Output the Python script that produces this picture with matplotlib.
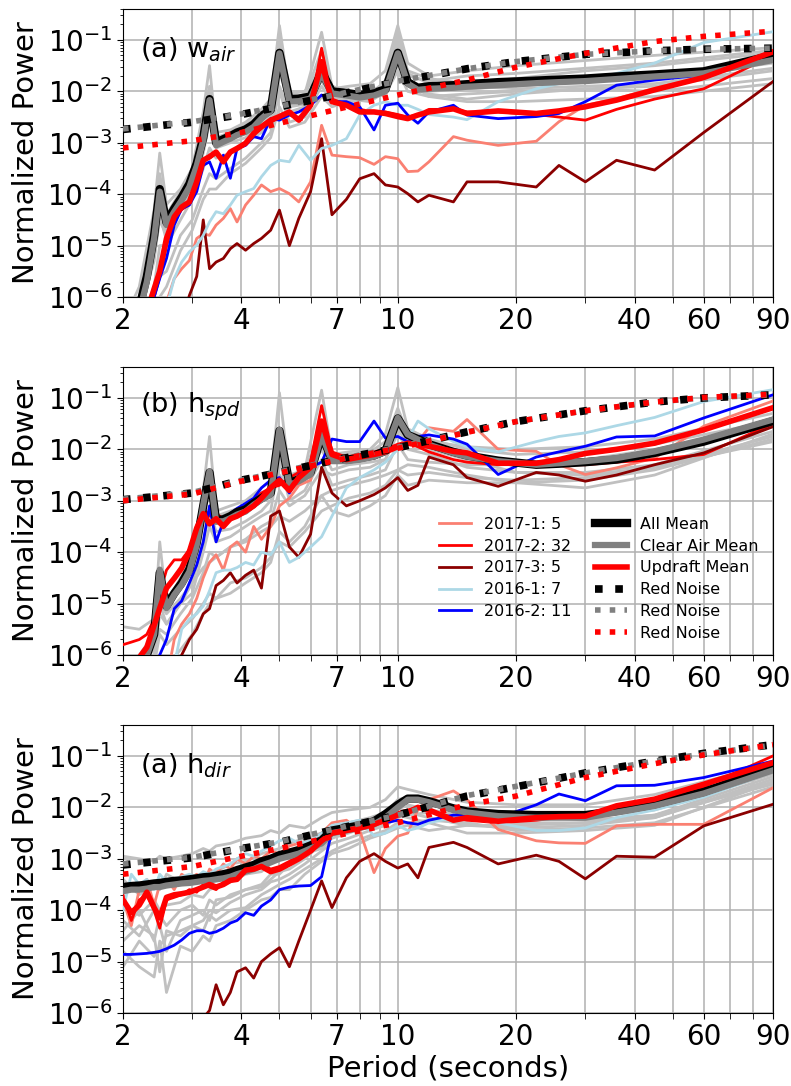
import numpy as np
import matplotlib
matplotlib.use('Agg')
import matplotlib.pyplot as plt
from matplotlib.lines import Line2D
from matplotlib.ticker import FixedLocator, FixedFormatter, NullFormatter

# period grids (seconds)
period = [2.0, 2.1, 2.2, 2.3, 2.4, 2.48, 2.58, 2.7, 2.82, 2.95,
          3.08, 3.2, 3.32, 3.45, 3.6, 3.75, 3.9, 4.1, 4.3, 4.5,
          4.75, 5.0, 5.3, 5.6, 6.0, 6.4, 6.8, 7.4, 8.0, 8.7,
          9.3, 10.0, 10.6, 11.25, 12.0, 13.85, 15.0, 18.0, 22.5, 25.7,
          30.0, 36.0, 45.0, 60.0, 90.0]
period_gray = [2.0, 2.2, 2.4, 2.48, 2.58, 2.8, 3.0, 3.2, 3.32, 3.45,
               3.75, 4.1, 4.5, 4.75, 5.0, 5.3, 5.8, 6.4, 6.8, 7.5,
               8.5, 9.3, 10.0, 10.6, 12.0, 15.0, 20.0, 30.0, 45.0, 90.0]
period_noise = [2, 3, 4, 5, 7, 10, 15, 20, 30, 45, 60, 90]

# all values below are log10(normalized power)

# ---- panel 1: w_air ----
w_all = [-6.5, -6.5, -6.2, -5.6, -4.8, -3.9, -4.55, -4.28, -4.06, -3.8,
         -3.4, -2.9, -2.15, -3.0, -2.93, -2.87, -2.8, -2.74, -2.64, -2.48,
         -2.36, -1.25, -2.15, -2.14, -2.1, -1.62, -2.0, -2.03, -2.07, -2.03,
         -1.96, -1.25, -1.82, -1.93, -1.9, -1.88, -1.86, -1.82, -1.79, -1.77,
         -1.75, -1.71, -1.67, -1.61, -1.3]
w_clear = [-6.5, -6.5, -6.3, -5.7, -4.86, -3.95, -4.6, -4.34, -4.12, -3.86,
           -3.45, -2.95, -2.17, -3.05, -2.98, -2.92, -2.85, -2.79, -2.69, -2.53,
           -2.38, -1.26, -2.2, -2.19, -2.14, -1.65, -2.04, -2.08, -2.12, -2.08,
           -2.0, -1.26, -1.85, -1.97, -1.95, -1.93, -1.91, -1.88, -1.84, -1.82,
           -1.8, -1.76, -1.71, -1.65, -1.39]
w_updraft = [-6.5, -6.5, -6.5, -6.3, -5.84, -5.5, -4.86, -4.44, -4.25, -4.15,
             -3.76, -3.34, -3.27, -3.18, -3.37, -3.18, -3.11, -3.01, -2.82, -2.69,
             -2.56, -2.49, -2.4, -2.56, -2.27, -1.42, -2.2, -2.27, -2.4, -2.4,
             -2.43, -2.49, -2.53, -2.46, -2.4, -2.34, -2.43, -2.38, -2.43, -2.38,
             -2.3, -2.17, -1.97, -1.73, -1.23]
w_2017_1 = [-6.5, -6.5, -6.5, -6.5, -6.5, -6.3, -6.1, -5.64, -5.45, -5.29,
            -4.86, -4.77, -4.8, -4.6, -4.47, -4.28, -4.54, -4.21, -4.02, -3.82,
            -3.95, -3.89, -3.99, -4.15, -3.76, -2.66, -3.24, -3.27, -3.29, -3.42,
            -3.27, -3.31, -3.56, -3.55, -3.37, -2.88, -2.95, -3.05, -2.97, -2.59,
            -2.27, -2.14, -1.94, -1.71, -1.26]
w_2017_2 = [-6.5, -6.5, -6.5, -6.4, -6.0, -5.6, -5.0, -4.5, -4.3, -4.2,
            -3.8, -3.35, -3.3, -3.2, -3.35, -3.2, -3.1, -3.0, -2.85, -2.7,
            -2.6, -2.5, -2.45, -2.55, -2.3, -1.16, -2.15, -2.25, -2.35, -2.4,
            -2.4, -2.45, -2.5, -2.45, -2.35, -2.35, -2.4, -2.4, -2.45, -2.5,
            -2.56, -2.35, -2.15, -1.95, -1.3]
w_2017_3 = [-6.5, -6.5, -6.5, -6.5, -6.5, -6.5, -6.5, -6.5, -6.5, -5.97,
            -5.6, -4.5, -5.45, -5.32, -5.25, -5.06, -4.96, -5.09, -4.96, -4.86,
            -4.7, -4.31, -5.0, -4.47, -3.95, -2.92, -4.4, -4.1, -3.7, -3.6,
            -3.82, -3.86, -3.99, -4.15, -4.02, -4.15, -3.76, -3.76, -3.86, -3.44,
            -3.76, -3.34, -3.53, -2.8, -1.81]
w_2016_1 = [-6.5, -6.5, -6.5, -6.5, -6.5, -6.5, -6.2, -5.64, -5.32, -5.12,
            -4.99, -4.8, -4.54, -4.34, -4.38, -4.21, -4.02, -3.95, -3.89, -3.66,
            -3.44, -3.34, -3.37, -3.05, -3.34, -3.11, -3.05, -2.92, -2.46, -2.27,
            -2.2, -2.27, -2.27, -2.35, -2.45, -2.5, -2.55, -2.2, -1.95, -1.85,
            -1.8, -1.65, -1.45, -1.05, -0.84]
w_2016_2 = [-6.5, -6.5, -6.5, -6.5, -6.0, -5.64, -5.25, -4.6, -4.28, -4.21,
            -3.95, -3.44, -3.37, -3.69, -3.24, -3.69, -3.11, -3.05, -2.88, -2.92,
            -2.53, -2.56, -2.46, -2.4, -2.27, -2.07, -2.2, -2.2, -2.3, -2.75,
            -2.27, -2.23, -2.46, -2.62, -2.4, -2.27, -2.46, -2.53, -2.49, -2.43,
            -2.2, -1.88, -1.78, -1.68, -1.23]
w_gray = [
    [-6.5, -5.8, -4.3, -3.2, -4.2, -3.9, -3.5, -2.4, -1.5, -2.8, -2.75, -2.6, -2.35, -2.15, -0.72,
     -2.05, -2.0, -1.5, -1.95, -1.9, -1.85, -1.6, -0.72, -1.45, -1.7, -1.6, -1.5, -1.4, -1.3, -1.15],
    [-6.5, -6.2, -5.0, -4.2, -4.7, -4.1, -3.6, -2.9, -2.4, -3.0, -2.85, -2.7, -2.5, -2.3, -1.4,
     -2.15, -2.05, -0.85, -1.9, -2.0, -2.05, -1.85, -1.0, -1.6, -1.75, -1.85, -1.75, -1.6, -1.5, -1.25],
    [-6.5, -6.5, -6.0, -5.6, -5.5, -4.8, -4.5, -3.9, -3.6, -3.7, -3.5, -3.3, -3.0, -2.8, -2.0,
     -2.6, -2.5, -1.9, -2.2, -2.15, -2.2, -2.0, -1.3, -1.9, -2.05, -2.15, -2.05, -1.95, -1.9, -1.6],
    [-6.5, -6.4, -5.2, -4.5, -4.8, -4.3, -3.9, -3.2, -2.6, -3.1, -3.0, -2.9, -2.65, -2.5, -1.6,
     -2.3, -2.25, -1.8, -2.1, -2.15, -2.1, -1.95, -1.15, -1.8, -2.1, -2.2, -2.2, -2.15, -2.1, -1.85],
    [-6.5, -6.5, -5.8, -5.0, -5.0, -4.5, -4.1, -3.5, -3.1, -3.3, -3.2, -3.0, -2.8, -2.6, -1.9,
     -2.4, -2.3, -1.75, -2.15, -2.1, -2.0, -1.9, -1.4, -1.7, -1.8, -1.7, -1.65, -1.55, -1.45, -1.2],
    [-6.5, -6.3, -5.3, -4.4, -4.9, -4.2, -3.8, -3.0, -2.2, -3.0, -2.9, -2.75, -2.55, -2.4, -1.1,
     -2.2, -2.15, -1.6, -2.05, -2.1, -2.1, -1.95, -0.9, -1.8, -2.0, -1.95, -1.9, -1.8, -1.75, -1.45],
    [-6.5, -6.5, -6.2, -6.0, -5.8, -5.1, -4.7, -4.1, -3.9, -3.9, -3.6, -3.4, -3.1, -2.9, -2.3,
     -2.7, -2.6, -2.1, -2.3, -2.2, -2.15, -2.05, -1.6, -2.0, -2.1, -2.05, -2.0, -1.95, -2.0, -1.75],
    [-6.5, -6.0, -4.7, -3.6, -4.4, -3.95, -3.5, -2.6, -1.9, -2.9, -2.8, -2.65, -2.45, -2.25, -0.95,
     -2.1, -2.1, -1.2, -2.0, -2.05, -2.05, -1.8, -0.8, -1.65, -1.85, -1.9, -1.95, -1.9, -1.85, -1.55],
]
w_noise_all = [-2.74, -2.6, -2.45, -2.3, -2.07, -1.81, -1.56, -1.42, -1.28, -1.21, -1.18, -1.16]
w_noise_clear = [-2.73, -2.59, -2.44, -2.29, -2.06, -1.8, -1.56, -1.42, -1.28, -1.21, -1.18, -1.16]
w_noise_updraft = [-3.1, -2.96, -2.8, -2.62, -2.35, -2.07, -1.78, -1.53, -1.26, -1.03, -0.93, -0.83]

# ---- panel 2: h_spd ----
s_all = [-6.2, -6.15, -6.1, -6.0, -5.6, -4.4, -5.05, -4.8, -4.6, -4.33,
         -3.82, -3.1, -2.45, -3.38, -3.36, -3.3, -3.22, -3.17, -3.05, -2.95,
         -2.85, -1.64, -2.66, -2.58, -2.45, -1.72, -2.2, -2.2, -2.17, -2.12,
         -2.03, -1.4, -1.72, -1.8, -1.9, -2.05, -2.12, -2.22, -2.3, -2.28,
         -2.25, -2.2, -2.07, -1.85, -1.45]
s_clear = [-6.2, -6.15, -6.1, -6.0, -5.6, -4.34, -5.09, -4.83, -4.64, -4.38,
           -3.86, -3.08, -2.43, -3.4, -3.4, -3.34, -3.27, -3.21, -3.08, -2.98,
           -2.88, -1.62, -2.69, -2.62, -2.49, -1.71, -2.23, -2.23, -2.2, -2.14,
           -2.05, -1.39, -1.71, -1.81, -1.91, -2.07, -2.14, -2.23, -2.3, -2.27,
           -2.23, -2.17, -2.04, -1.81, -1.42]
s_updraft = [-6.1, -6.1, -6.05, -5.85, -5.42, -5.09, -4.7, -4.51, -4.31, -3.99,
             -3.53, -3.25, -3.45, -3.35, -3.5, -3.35, -3.3, -3.2, -3.1, -2.95,
             -2.75, -2.6, -2.8, -2.55, -2.35, -1.45, -2.1, -2.2, -2.15, -2.1,
             -2.05, -1.95, -1.88, -1.91, -1.94, -2.04, -2.07, -2.27, -2.27, -2.2,
             -2.08, -2.0, -1.88, -1.62, -1.19]
s_2017_1 = [-6.5, -6.5, -6.5, -6.5, -6.5, -6.5, -6.5, -5.7, -5.4, -5.2,
            -4.9, -4.5, -4.2, -4.05, -4.35, -3.9, -3.8, -4.0, -3.5, -3.75,
            -3.5, -3.1, -2.95, -2.7, -2.6, -1.6, -2.2, -2.25, -2.2, -2.15,
            -2.05, -1.95, -1.9, -1.85, -1.58, -1.65, -1.42, -2.0, -2.04, -2.3,
            -2.49, -2.36, -2.17, -1.55, -1.06]
s_2017_2 = [-5.8, -5.75, -5.7, -5.6, -5.3, -4.8, -4.35, -4.15, -4.15, -3.95,
            -3.5, -3.15, -3.3, -3.25, -3.35, -3.25, -3.2, -3.1, -3.0, -2.85,
            -2.75, -2.7, -2.55, -2.45, -2.25, -1.15, -2.05, -2.15, -2.1, -2.05,
            -2.0, -1.9, -1.85, -1.95, -2.05, -2.2, -2.25, -2.3, -2.28, -2.3,
            -2.3, -2.25, -2.2, -2.1, -1.5]
s_2017_3 = [-6.5, -6.5, -6.5, -6.5, -6.5, -6.5, -6.5, -6.5, -6.0, -5.7,
            -5.5, -5.2, -5.1, -4.65, -4.55, -4.4, -4.6, -4.45, -4.35, -4.7,
            -3.3, -3.2, -3.9, -4.1, -3.65, -2.35, -2.85, -3.1, -3.0, -2.88,
            -2.75, -2.55, -2.8, -2.7, -2.15, -2.3, -2.55, -2.72, -2.45, -2.5,
            -2.62, -2.5, -2.3, -2.07, -1.56]
s_2016_1 = [-6.5, -6.5, -6.5, -6.5, -6.5, -6.5, -6.5, -6.2, -5.5, -5.3,
            -5.2, -5.05, -4.75, -4.4, -4.35, -4.35, -4.3, -4.2, -4.25, -4.0,
            -4.05, -3.8, -4.2, -4.1, -3.9, -3.7, -3.3, -2.75, -2.55, -2.4,
            -2.25, -2.0, -1.8, -1.45, -1.6, -1.85, -1.95, -2.05, -1.85, -1.75,
            -1.68, -1.54, -1.38, -1.07, -0.84]
s_2016_2 = [-6.5, -6.5, -6.5, -6.5, -6.5, -6.0, -5.7, -5.1, -4.95, -4.6,
            -4.25, -3.8, -3.1, -3.8, -3.4, -3.25, -3.15, -3.05, -2.95, -2.75,
            -2.6, -2.55, -2.85, -2.5, -2.35, -2.25, -1.8, -1.85, -1.85, -1.45,
            -1.78, -1.75, -1.85, -1.75, -1.72, -1.8, -1.9, -2.49, -2.15, -2.05,
            -1.94, -1.76, -1.74, -1.39, -0.94]
s_gray = [
    [-6.5, -6.3, -5.5, -3.8, -5.0, -4.5, -4.1, -2.8, -1.75, -3.2, -3.1, -3.0, -2.75, -2.6, -0.9,
     -2.5, -2.4, -0.85, -2.1, -2.05, -2.0, -1.7, -0.8, -1.6, -1.8, -2.0, -2.1, -2.05, -1.9, -1.45],
    [-5.45, -5.5, -5.3, -5.0, -5.2, -4.9, -4.6, -4.3, -4.2, -4.1, -3.9, -3.8, -3.6, -3.5, -3.3,
     -3.4, -3.2, -2.9, -2.8, -2.7, -2.6, -2.5, -2.4, -2.3, -2.35, -2.5, -2.65, -2.75, -2.5, -1.7],
    [-6.5, -6.5, -6.2, -5.6, -5.8, -5.5, -5.3, -5.0, -4.8, -4.9, -4.6, -4.5, -4.3, -4.1, -3.8,
     -3.9, -3.6, -3.2, -3.1, -2.95, -2.85, -2.7, -2.4, -2.5, -2.45, -2.55, -2.6, -2.55, -2.35, -1.85],
    [-6.3, -6.2, -5.9, -5.0, -5.4, -5.0, -4.6, -3.8, -3.2, -3.6, -3.55, -3.4, -3.2, -3.0, -2.5,
     -2.8, -2.6, -2.0, -2.4, -2.3, -2.25, -2.2, -1.6, -1.9, -2.0, -2.2, -2.45, -2.5, -2.35, -1.75],
    [-6.5, -6.5, -6.5, -6.0, -6.2, -5.9, -5.6, -5.2, -5.0, -4.9, -4.8, -4.6, -4.4, -4.2, -3.6,
     -3.8, -3.5, -2.9, -3.2, -3.3, -3.1, -2.9, -2.5, -2.7, -2.6, -2.65, -2.65, -2.6, -2.4, -1.8],
    [-6.2, -6.0, -5.6, -4.6, -5.0, -4.6, -4.2, -3.3, -2.6, -3.3, -3.2, -3.1, -2.85, -2.75, -1.8,
     -2.55, -2.45, -1.5, -2.1, -2.1, -2.05, -1.85, -1.2, -1.7, -1.85, -1.95, -2.0, -1.95, -1.8, -1.3],
    [-6.5, -6.4, -6.0, -5.5, -5.6, -5.2, -4.9, -4.4, -4.0, -4.1, -3.9, -3.75, -3.5, -3.4, -2.8,
     -3.1, -2.9, -2.4, -2.5, -2.4, -2.35, -2.2, -1.7, -2.0, -2.1, -2.35, -2.45, -2.45, -2.3, -1.65],
    [-6.5, -6.5, -6.1, -5.2, -5.4, -5.0, -4.8, -4.0, -3.5, -3.8, -3.7, -3.5, -3.3, -3.2, -2.2,
     -3.0, -2.8, -2.2, -2.7, -2.6, -2.5, -2.4, -1.9, -2.2, -2.25, -2.3, -2.3, -2.2, -2.0, -1.55],
]
s_noise_all = [-2.98, -2.85, -2.6, -2.45, -2.2, -1.97, -1.66, -1.46, -1.25, -1.08, -1.0, -0.94]
s_noise_clear = [-2.97, -2.84, -2.6, -2.44, -2.2, -1.96, -1.66, -1.46, -1.25, -1.08, -1.0, -0.94]
s_noise_updraft = [-3.0, -2.87, -2.62, -2.46, -2.21, -1.98, -1.67, -1.46, -1.25, -1.08, -0.99, -0.93]

# ---- panel 3: h_dir ----
d_all = [-3.55, -3.53, -3.52, -3.5, -3.48, -3.47, -3.45, -3.43, -3.42, -3.4,
         -3.38, -3.36, -3.35, -3.33, -3.3, -3.27, -3.22, -3.17, -3.12, -3.05,
         -3.0, -2.93, -2.88, -2.83, -2.74, -2.64, -2.45, -2.4, -2.35, -2.27,
         -2.13, -1.95, -1.83, -1.83, -1.88, -2.02, -2.08, -2.13, -2.15, -2.15,
         -2.15, -2.07, -1.94, -1.7, -1.22]
d_clear = [-3.63, -3.6, -3.6, -3.58, -3.55, -3.55, -3.52, -3.5, -3.48, -3.47,
           -3.45, -3.43, -3.42, -3.4, -3.38, -3.35, -3.3, -3.25, -3.2, -3.13,
           -3.07, -3.0, -2.95, -2.9, -2.8, -2.7, -2.5, -2.45, -2.4, -2.33,
           -2.2, -2.0, -1.85, -1.85, -1.9, -2.05, -2.1, -2.17, -2.2, -2.2,
           -2.2, -2.1, -1.97, -1.73, -1.28]
d_updraft = [-3.8, -4.05, -3.9, -3.65, -3.95, -4.15, -3.75, -3.7, -3.68, -3.65,
             -3.6, -3.55, -3.5, -3.55, -3.5, -3.42, -3.4, -3.22, -3.2, -3.15,
             -3.25, -3.2, -3.1, -3.0, -2.85, -2.65, -2.5, -2.45, -2.4, -2.33,
             -2.25, -2.15, -2.1, -2.0, -2.05, -2.25, -2.2, -2.27, -2.2, -2.18,
             -2.17, -1.97, -1.84, -1.55, -1.13]
d_2017_1 = [-3.8, -4.3, -3.6, -3.4, -3.9, -3.5, -3.4, -3.6, -3.3, -3.4,
            -3.3, -3.5, -3.2, -3.3, -3.1, -3.2, -3.0, -3.1, -2.95, -3.0,
            -2.85, -2.9, -2.75, -2.7, -2.65, -2.5, -2.3, -2.25, -2.45, -3.27,
            -2.8, -2.56, -2.5, -2.04, -1.85, -1.68, -1.85, -2.43, -2.65, -2.69,
            -2.7, -2.36, -2.33, -2.33, -1.62]
d_2017_2 = [-3.7, -4.2, -3.8, -3.7, -4.0, -4.35, -3.8, -3.75, -3.7, -3.6,
            -3.65, -3.5, -3.55, -3.6, -3.45, -3.4, -3.35, -3.25, -3.15, -3.1,
            -3.2, -3.15, -3.05, -2.95, -2.8, -2.6, -2.45, -2.4, -2.35, -2.3,
            -2.2, -2.1, -2.05, -2.0, -2.05, -2.2, -2.25, -2.3, -2.25, -2.2,
            -2.15, -2.05, -1.9, -1.6, -1.0]
d_2017_3 = [-6.5, -6.5, -6.5, -6.5, -6.5, -6.5, -6.5, -6.5, -6.5, -6.4,
            -6.3, -6.1, -5.95, -5.45, -5.84, -5.6, -5.2, -5.12, -5.32, -5.0,
            -4.85, -4.73, -5.1, -4.6, -4.0, -3.43, -3.95, -3.37, -3.05, -2.9,
            -3.05, -3.18, -3.1, -3.37, -2.78, -2.68, -2.78, -3.1, -2.93, -3.05,
            -3.39, -2.95, -2.97, -2.36, -1.94]
d_2016_1 = [-4.0, -3.3, -3.5, -3.4, -3.6, -3.3, -3.45, -3.4, -3.35, -3.3,
            -3.35, -3.25, -3.3, -3.2, -3.15, -3.1, -3.0, -2.9, -2.95, -2.85,
            -2.75, -2.65, -2.6, -2.7, -2.65, -2.5, -2.35, -2.3, -2.25, -2.55,
            -2.5, -2.35, -2.45, -2.4, -2.3, -2.2, -2.2, -2.3, -2.45, -2.45,
            -2.4, -2.2, -2.05, -1.8, -1.3]
d_2016_2 = [-4.86, -4.86, -4.85, -4.84, -4.82, -4.8, -4.75, -4.68, -4.58, -4.45,
            -4.4, -4.4, -4.45, -4.42, -4.35, -4.25, -4.2, -4.05, -4.1, -3.92,
            -3.8, -3.6, -3.55, -3.53, -3.52, -3.35, -2.45, -2.45, -2.35, -2.25,
            -2.3, -2.25, -2.3, -2.33, -2.25, -2.15, -2.15, -2.2, -1.95, -1.74,
            -1.87, -1.58, -1.57, -1.42, -1.1]
d_gray = [
    [-2.95, -3.0, -3.05, -2.95, -3.0, -2.95, -2.9, -2.8, -2.85, -2.75, -2.7, -2.6, -2.55, -2.45, -2.5,
     -2.35, -2.4, -2.2, -2.1, -2.05, -2.0, -1.85, -1.6, -1.65, -1.75, -1.9, -1.95, -1.95, -1.75, -1.15],
    [-4.4, -4.0, -4.6, -4.1, -4.3, -4.0, -3.9, -4.1, -3.8, -3.9, -3.7, -3.6, -3.5, -3.3, -3.3,
     -3.1, -2.9, -2.8, -2.6, -2.5, -2.35, -2.3, -2.0, -2.1, -2.2, -2.35, -2.4, -2.35, -2.2, -1.45],
    [-5.1, -4.6, -4.9, -4.7, -4.5, -4.4, -4.3, -4.4, -4.1, -4.2, -4.0, -3.95, -3.7, -3.6, -3.5,
     -3.4, -3.2, -3.0, -2.85, -2.7, -2.55, -2.45, -2.3, -2.3, -2.25, -2.3, -2.45, -2.4, -2.3, -1.6],
    [-4.2, -4.5, -4.0, -4.3, -4.8, -4.2, -4.1, -4.0, -4.2, -3.8, -3.75, -3.6, -3.55, -3.4, -3.25,
     -3.2, -3.0, -2.7, -2.55, -2.45, -2.4, -2.35, -2.15, -2.2, -2.3, -2.5, -2.5, -2.45, -2.35, -1.5],
    [-3.4, -3.7, -3.5, -3.6, -3.3, -3.45, -3.5, -3.3, -3.4, -3.25, -3.1, -3.05, -2.9, -2.85, -2.8,
     -2.7, -2.6, -2.5, -2.35, -2.35, -2.25, -2.15, -1.9, -1.95, -2.05, -2.15, -2.2, -2.2, -2.05, -1.35],
    [-4.8, -5.1, -5.3, -4.6, -5.6, -4.7, -4.8, -4.5, -4.6, -4.3, -4.2, -4.0, -3.8, -3.75, -3.6,
     -3.6, -3.3, -3.05, -2.9, -2.8, -2.6, -2.5, -2.4, -2.35, -2.45, -2.35, -2.35, -2.3, -2.15, -1.55],
    [-3.9, -4.1, -3.8, -4.0, -3.9, -3.85, -3.7, -3.75, -3.6, -3.55, -3.45, -3.3, -3.25, -3.1, -3.0,
     -2.95, -2.8, -2.6, -2.4, -2.3, -2.2, -2.1, -1.85, -1.8, -1.9, -2.05, -2.15, -2.25, -2.15, -1.4],
    [-4.6, -4.3, -4.5, -5.2, -4.4, -4.5, -4.3, -4.2, -4.0, -4.05, -3.85, -3.7, -3.6, -3.45, -3.4,
     -3.3, -3.1, -2.85, -2.7, -2.6, -2.45, -2.35, -2.2, -2.15, -2.1, -2.2, -2.3, -2.3, -2.2, -1.5],
]
d_noise_all = [-3.12, -2.98, -2.8, -2.68, -2.42, -2.15, -1.78, -1.6, -1.33, -1.1, -0.95, -0.78]
d_noise_clear = [-3.1, -2.97, -2.8, -2.67, -2.41, -2.15, -1.77, -1.59, -1.33, -1.1, -0.96, -0.79]
d_noise_updraft = [-3.3, -3.15, -2.95, -2.8, -2.55, -2.3, -1.95, -1.78, -1.42, -1.15, -0.98, -0.78]

panel_labels = ['(a) w$_{air}$', '(b) h$_{spd}$', '(a) h$_{dir}$']
case_labels = ['2017-1: 5', '2017-2: 32', '2017-3: 5', '2016-1: 7', '2016-2: 11']
case_colors = ['salmon', 'red', 'darkred', 'lightblue', 'blue']
xtick_major = [2, 4, 7, 10, 20, 40, 60, 90]
xtick_minor = [3, 5, 6, 8, 9, 30, 50, 70, 80]

panels = [
    dict(all=w_all, clear=w_clear, updraft=w_updraft,
         cases=[w_2017_1, w_2017_2, w_2017_3, w_2016_1, w_2016_2], gray=w_gray,
         noise=[w_noise_all, w_noise_clear, w_noise_updraft]),
    dict(all=s_all, clear=s_clear, updraft=s_updraft,
         cases=[s_2017_1, s_2017_2, s_2017_3, s_2016_1, s_2016_2], gray=s_gray,
         noise=[s_noise_all, s_noise_clear, s_noise_updraft]),
    dict(all=d_all, clear=d_clear, updraft=d_updraft,
         cases=[d_2017_1, d_2017_2, d_2017_3, d_2016_1, d_2016_2], gray=d_gray,
         noise=[d_noise_all, d_noise_clear, d_noise_updraft]),
]


def pw(v):
    return 10.0 ** np.array(v)


def plot_panel(ax, d, label):
    for g in d['gray']:
        ax.plot(period_gray, pw(g), color='#c0c0c0', lw=2, zorder=2)
    for vals, c in zip(d['cases'], case_colors):
        ax.plot(period, pw(vals), color=c, lw=2, zorder=3)
    ax.plot(period, pw(d['all']), color='black', lw=6, zorder=4)
    ax.plot(period, pw(d['clear']), color='gray', lw=4.5, zorder=5)
    ax.plot(period, pw(d['updraft']), color='red', lw=4, zorder=6)
    ax.plot(period_noise, pw(d['noise'][0]), color='black', lw=5.5, ls=':', zorder=7)
    ax.plot(period_noise, pw(d['noise'][1]), color='gray', lw=4, ls=':', zorder=8)
    ax.plot(period_noise, pw(d['noise'][2]), color='red', lw=4, ls=':', zorder=9)

    ax.set_xscale('log')
    ax.set_yscale('log')
    ax.set_xlim(2, 90)
    ax.set_ylim(1e-6, 0.4)
    ax.xaxis.set_major_locator(FixedLocator(xtick_major))
    ax.xaxis.set_major_formatter(FixedFormatter([str(t) for t in xtick_major]))
    ax.xaxis.set_minor_locator(FixedLocator(xtick_minor))
    ax.xaxis.set_minor_formatter(NullFormatter())
    ax.tick_params(axis='both', which='major', labelsize=20, length=4)
    ax.tick_params(axis='x', which='minor', length=4)
    ax.grid(True, axis='x', which='both', color='#b0b0b0', lw=1.1)
    ax.grid(True, axis='y', which='major', color='#b0b0b0', lw=1.1)
    ax.set_ylabel('Normalized Power', fontsize=21, labelpad=5)
    ax.text(0.026, 0.86, label, transform=ax.transAxes, fontsize=19.5, va='center')


fig = plt.figure(figsize=(7.91, 10.86), dpi=100)
bottoms = [0.7265, 0.3969, 0.0672]
axes = []
for i in range(3):
    ax = fig.add_axes([0.1555, bottoms[i], 0.8217, 0.2652])
    plot_panel(ax, panels[i], panel_labels[i])
    axes.append(ax)

axes[2].set_xlabel('Period (seconds)', fontsize=21, labelpad=2)

# legend in the middle panel
handles = [Line2D([], [], color=c, lw=2) for c in case_colors]
labels = list(case_labels)
handles.append(Line2D([], [], alpha=0))
labels.append('')
handles += [Line2D([], [], color='black', lw=6),
            Line2D([], [], color='gray', lw=4.5),
            Line2D([], [], color='red', lw=4),
            Line2D([], [], color='black', lw=5.5, ls=':'),
            Line2D([], [], color='gray', lw=4, ls=':'),
            Line2D([], [], color='red', lw=4, ls=':')]
labels += ['All Mean', 'Clear Air Mean', 'Updraft Mean', 'Red Noise', 'Red Noise', 'Red Noise']
axes[1].legend(handles, labels, ncol=2, frameon=False, fontsize=11.5,
               loc='lower right', bbox_to_anchor=(1.0, 0.0),
               columnspacing=1.5, handlelength=2.0, handletextpad=0.8,
               labelspacing=0.42)

fig.savefig('out.png', dpi=100)
